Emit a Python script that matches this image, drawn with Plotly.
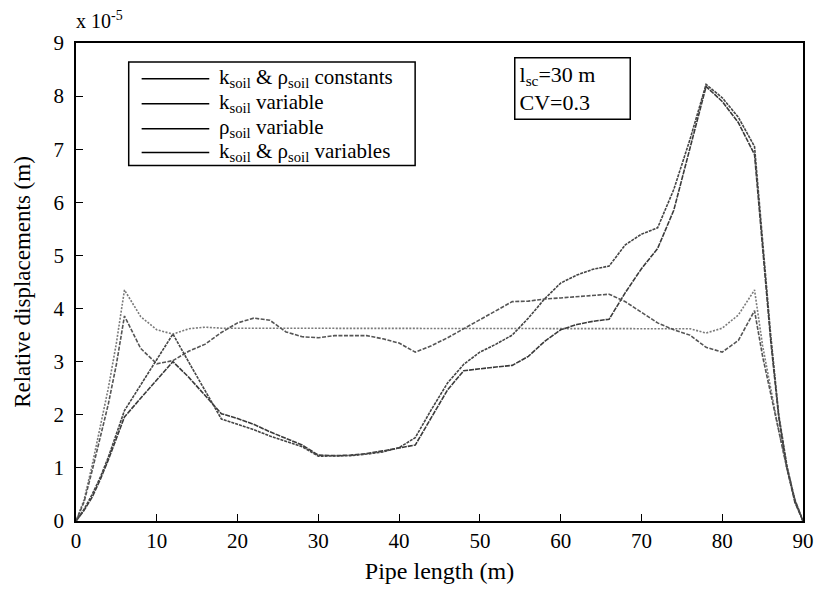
import plotly.graph_objects as go

# ---- data ----
x_m = [0, 1, 2, 3, 4, 5, 6, 8, 10, 12, 14, 16, 18, 20, 22, 24, 26, 28, 30, 32, 34, 36, 38, 40,
       42, 44, 46, 48, 50, 52, 54, 56, 58, 60, 62, 64, 66, 68, 70, 72, 74, 76, 78, 80, 82, 84,
       85, 86, 87, 88, 89, 90]

const_both = [0, 0.4, 1.05, 1.75, 2.5, 3.35, 4.35, 3.85, 3.6, 3.52, 3.62, 3.65, 3.63, 3.63, 3.63,
              3.63, 3.63, 3.63, 3.63, 3.63, 3.63, 3.63, 3.63, 3.63, 3.63, 3.63, 3.63, 3.63, 3.63,
              3.63, 3.63, 3.63, 3.63, 3.63, 3.63, 3.63, 3.63, 3.63, 3.63, 3.63, 3.63, 3.62, 3.54,
              3.63, 3.88, 4.35, 3.3, 2.5, 1.7, 1.0, 0.4, 0]

rho_var = [0, 0.36, 0.95, 1.55, 2.2, 2.95, 3.86, 3.25, 2.96, 3.02, 3.2, 3.33, 3.55, 3.73, 3.82,
           3.78, 3.56, 3.47, 3.45, 3.49, 3.49, 3.49, 3.43, 3.35, 3.18, 3.3, 3.45, 3.62, 3.8, 3.96,
           4.13, 4.14, 4.18, 4.2, 4.22, 4.24, 4.27, 4.13, 3.93, 3.73, 3.6, 3.5, 3.27, 3.18, 3.4,
           3.96, 3.1, 2.4, 1.65, 1.0, 0.4, 0]

k_var = [0, 0.2, 0.45, 0.78, 1.15, 1.55, 1.96, 2.31, 2.66, 3.0, 2.7, 2.35, 2.02, 1.93, 1.82, 1.68,
         1.55, 1.43, 1.24, 1.23, 1.24, 1.27, 1.32, 1.38, 1.43, 1.95, 2.47, 2.83, 2.87, 2.9, 2.93,
         3.1, 3.38, 3.6, 3.7, 3.76, 3.8, 4.3, 4.75, 5.13, 5.85, 7.03, 8.18, 7.9, 7.5, 6.9, 5.1,
         3.4, 1.95, 1.0, 0.35, 0]

both_var = [0, 0.22, 0.5, 0.82, 1.2, 1.62, 2.08, 2.56, 3.04, 3.52, 2.98, 2.45, 1.92, 1.82, 1.72,
            1.6, 1.5, 1.4, 1.22, 1.22, 1.23, 1.26, 1.3, 1.38, 1.57, 2.1, 2.6, 2.95, 3.18, 3.33,
            3.5, 3.82, 4.18, 4.48, 4.63, 4.74, 4.8, 5.2, 5.4, 5.52, 6.24, 7.18, 8.22, 7.97, 7.6,
            7.05, 5.2, 3.5, 2.0, 1.05, 0.38, 0]

series_names = ["k<sub>soil</sub> & ρ<sub>soil</sub> constants",
                "k<sub>soil</sub> variable",
                "ρ<sub>soil</sub> variable",
                "k<sub>soil</sub> & ρ<sub>soil</sub> variables"]
series_values = [const_both, k_var, rho_var, both_var]
series_colors = ["#7a7a7a", "#3a3a3a", "#555555", "#444444"]
series_dash = ["2px,1.5px", "5px,1px", "4px,1.5px", "3px,1px"]

x_ticks = list(range(0, 91, 10))
y_ticks = list(range(0, 10))

FONT = "Liberation Serif"

fig = go.Figure()
for name, vals, col, dash in zip(series_names, series_values, series_colors, series_dash):
    fig.add_trace(go.Scatter(x=x_m, y=vals, mode="lines", name=name, showlegend=False,
                             line=dict(color=col, width=1.6, dash=dash)))

# plot area in pixels
L, R, T, B = 76, 807, 43, 523
W, H = R - L, B - T


def fx(px):
    return (px - L) / W


def fy(py):
    return (B - py) / H


shapes = []
annotations = []

# custom legend box
shapes.append(dict(type="rect", xref="paper", yref="paper",
                   x0=fx(129), x1=fx(417), y0=fy(166), y1=fy(62),
                   line=dict(color="black", width=1.5), fillcolor="white", layer="above"))
rows = [79, 104, 129, 153]
for name, ry in zip(series_names, rows):
    shapes.append(dict(type="line", xref="paper", yref="paper",
                       x0=fx(142), x1=fx(210), y0=fy(ry), y1=fy(ry),
                       line=dict(color="black", width=1.5), layer="above"))
    annotations.append(dict(text=name, xref="paper", yref="paper", x=fx(218), y=fy(ry - 1),
                            xanchor="left", yanchor="middle", showarrow=False,
                            font=dict(family=FONT, size=21, color="black")))

# parameter box
annotations.append(dict(text="l<sub>sc</sub>=30 m<br>CV=0.3", xref="paper", yref="paper",
                        x=fx(516), y=fy(57), xanchor="left", yanchor="top", align="left",
                        width=106, height=52, valign="middle",
                        showarrow=False, bordercolor="black", borderwidth=1.5, borderpad=4,
                        bgcolor="white",
                        font=dict(family=FONT, size=22, color="black")))

# exponent label
annotations.append(dict(text="x 10<sup>-5</sup>", xref="paper", yref="paper",
                        x=fx(74), y=1.0, xanchor="left", yanchor="bottom", yshift=9,
                        showarrow=False, font=dict(family=FONT, size=20, color="black")))

fig.update_layout(
    width=826, height=592,
    margin=dict(l=L, r=826 - R, t=T, b=592 - B),
    paper_bgcolor="white", plot_bgcolor="white",
    font=dict(family=FONT, size=21, color="black"),
    shapes=shapes, annotations=annotations,
    showlegend=False,
)
fig.update_xaxes(range=[0, 90], tickvals=x_ticks, ticks="inside", ticklen=7, tickwidth=1.3,
                 tickcolor="black", showline=True, linecolor="black", linewidth=1.5,
                 mirror=True, showgrid=False, zeroline=False,
                 title=dict(text="Pipe length (m)", font=dict(family=FONT, size=24), standoff=10),
                 tickfont=dict(family=FONT, size=21))
fig.update_yaxes(range=[0, 9], tickvals=y_ticks, ticks="inside", ticklen=7, tickwidth=1.3,
                 tickcolor="black", showline=True, linecolor="black", linewidth=1.5,
                 mirror=True, showgrid=False, zeroline=False, ticklabelstandoff=6,
                 title=dict(text="Relative displacements (m)", font=dict(family=FONT, size=23),
                            standoff=16),
                 tickfont=dict(family=FONT, size=21))

fig.write_html("out.html")
